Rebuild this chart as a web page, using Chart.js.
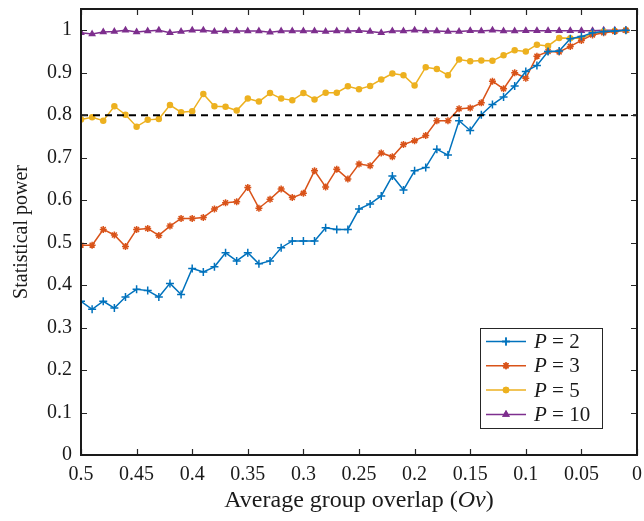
<!DOCTYPE html>
<html>
<head>
<meta charset="utf-8">
<script src="https://cdn.jsdelivr.net/npm/chart.js@4.4.1/dist/chart.umd.min.js"></script>
<style>
  html, body { margin: 0; padding: 0; background: #fff; }
  #wrap { width: 644px; height: 521px; }
</style>
</head>
<body>
<div id="wrap"><canvas id="powerChart" width="644" height="521"></canvas></div>
<script>
// x values (average group overlap), 0.50 down to 0.01
const overlap = [0.50, 0.49, 0.48, 0.47, 0.46, 0.45, 0.44, 0.43, 0.42, 0.41,
  0.40, 0.39, 0.38, 0.37, 0.36, 0.35, 0.34, 0.33, 0.32, 0.31,
  0.30, 0.29, 0.28, 0.27, 0.26, 0.25, 0.24, 0.23, 0.22, 0.21,
  0.20, 0.19, 0.18, 0.17, 0.16, 0.15, 0.14, 0.13, 0.12, 0.11,
  0.10, 0.09, 0.08, 0.07, 0.06, 0.05, 0.04, 0.03, 0.02, 0.01];

const powerP2 = [0.362, 0.343, 0.362, 0.346, 0.372, 0.390, 0.387, 0.372, 0.404, 0.378,
  0.439, 0.431, 0.443, 0.476, 0.457, 0.476, 0.450, 0.457, 0.488, 0.504,
  0.504, 0.504, 0.535, 0.531, 0.531, 0.579, 0.591, 0.610, 0.657, 0.624,
  0.669, 0.677, 0.720, 0.706, 0.787, 0.764, 0.801, 0.825, 0.843, 0.869,
  0.903, 0.917, 0.950, 0.951, 0.980, 0.985, 0.994, 0.997, 0.998, 1.0];

const powerP3 = [0.494, 0.494, 0.531, 0.518, 0.491, 0.531, 0.533, 0.517, 0.539, 0.557,
  0.557, 0.559, 0.579, 0.594, 0.596, 0.630, 0.581, 0.602, 0.626, 0.606,
  0.616, 0.669, 0.631, 0.673, 0.650, 0.685, 0.681, 0.711, 0.702, 0.731,
  0.740, 0.752, 0.787, 0.787, 0.815, 0.817, 0.829, 0.880, 0.862, 0.900,
  0.887, 0.939, 0.950, 0.949, 0.962, 0.976, 0.989, 0.994, 0.997, 1.0];

const powerP5 = [0.790, 0.795, 0.787, 0.821, 0.801, 0.773, 0.789, 0.791, 0.824, 0.807,
  0.809, 0.850, 0.821, 0.820, 0.811, 0.839, 0.832, 0.852, 0.839, 0.835,
  0.852, 0.837, 0.853, 0.853, 0.868, 0.861, 0.869, 0.884, 0.898, 0.894,
  0.870, 0.913, 0.909, 0.894, 0.931, 0.927, 0.929, 0.928, 0.941, 0.953,
  0.950, 0.966, 0.963, 0.982, 0.981, 0.981, 0.992, 0.997, 0.998, 1.0];

const powerP10 = [0.994, 0.991, 0.996, 0.997, 1.0, 0.996, 0.998, 1.0, 0.994, 0.997,
  1.0, 1.0, 0.997, 0.998, 0.998, 0.998, 0.998, 0.995, 0.998, 0.998,
  0.998, 0.998, 0.997, 0.998, 0.998, 0.999, 0.997, 0.994, 0.998, 0.998,
  1.0, 0.998, 0.998, 0.997, 0.997, 0.999, 0.998, 1.0, 0.998, 0.998,
  0.999, 0.999, 0.999, 0.999, 0.999, 0.999, 0.999, 1.0, 1.0, 1.0];

const seriesLabels = ["2", "3", "5", "10"];
const threshold = 0.8;
const thresholdX = [0.5, 0];

const serif = "'Liberation Serif', 'Times New Roman', serif";

function pairs(ys) {
  return overlap.map((x, i) => ({ x: x, y: ys[i] }));
}

// box + inward ticks on all four sides, MATLAB style
const frame = {
  id: "frame",
  afterDraw(chart) {
    const { ctx, chartArea: a, scales } = chart;
    ctx.save();
    ctx.strokeStyle = "#262626";
    ctx.lineWidth = 1.2;
    const len = 6;
    scales.x.ticks.forEach(t => {
      const px = Math.round(scales.x.getPixelForValue(t.value)) + 0.5;
      ctx.beginPath();
      ctx.moveTo(px, a.bottom); ctx.lineTo(px, a.bottom - len);
      ctx.moveTo(px, a.top); ctx.lineTo(px, a.top + len);
      ctx.stroke();
    });
    scales.y.ticks.forEach(t => {
      const py = Math.round(scales.y.getPixelForValue(t.value)) + 0.5;
      ctx.beginPath();
      ctx.moveTo(a.left, py); ctx.lineTo(a.left + len, py);
      ctx.moveTo(a.right, py); ctx.lineTo(a.right - len, py);
      ctx.stroke();
    });
    ctx.lineWidth = 2;
    ctx.strokeStyle = "#1a1a1a";
    ctx.strokeRect(a.left, a.top, a.right - a.left, a.bottom - a.top);

    // x axis title, with italic Ov
    const parts = [["Average group overlap (", ""], ["Ov", "italic "], [")", ""]];
    let total = 0;
    parts.forEach(p => {
      ctx.font = p[1] + "24px " + serif;
      total += ctx.measureText(p[0]).width;
    });
    let tx = (a.left + a.right) / 2 - total / 2;
    ctx.fillStyle = "#1a1a1a";
    ctx.textBaseline = "middle";
    parts.forEach(p => {
      ctx.font = p[1] + "24px " + serif;
      ctx.fillText(p[0], tx, 501);
      tx += ctx.measureText(p[0]).width;
    });
    ctx.restore();
  }
};

// legend box drawn inside the plot, lower right
const insideLegend = {
  id: "insideLegend",
  afterDraw(chart) {
    const { ctx, chartArea: a } = chart;
    const items = chart.data.datasets.filter(d => d.inLegend);
    const boxW = 122, rowH = 24.3;
    const boxH = 100;
    const x0 = a.right - 157, y0 = a.bottom - 127;
    ctx.save();
    ctx.fillStyle = "#fff";
    ctx.fillRect(x0, y0, boxW, boxH);
    ctx.strokeStyle = "#262626";
    ctx.lineWidth = 1;
    ctx.strokeRect(x0 + 0.5, y0 + 0.5, boxW, boxH);
    items.forEach((d, i) => {
      const cy = y0 + 13.5 + i * rowH;
      ctx.strokeStyle = d.borderColor;
      ctx.lineWidth = 1.5;
      ctx.beginPath();
      ctx.moveTo(x0 + 6, cy); ctx.lineTo(x0 + 46, cy);
      ctx.stroke();
      Chart.helpers.drawPoint(ctx, {
        pointStyle: d.pointStyle, radius: d.pointRadius, rotation: 0,
        borderWidth: 1.5
      }, x0 + 26, cy);
      ctx.fillStyle = d.borderColor;
      ctx.strokeStyle = d.borderColor;
      if (d.pointStyle === "circle" || d.pointStyle === "triangle") {
        ctx.fill();
      }
      ctx.stroke();
      ctx.fillStyle = "#1a1a1a";
      ctx.textBaseline = "middle";
      ctx.font = "italic 21px " + serif;
      ctx.fillText("P", x0 + 54, cy + 1);
      const pw = ctx.measureText("P").width;
      ctx.font = "21px " + serif;
      ctx.fillText(" = " + d.pLabel, x0 + 54 + pw, cy + 1);
    });
    ctx.restore();
  }
};

function series(label, ys, color, style, r) {
  return {
    label: "P = " + label,
    pLabel: label,
    inLegend: true,
    data: pairs(ys),
    borderColor: color,
    backgroundColor: color,
    borderWidth: 1.5,
    pointStyle: style,
    pointRadius: r,
    pointBorderWidth: 1.5,
    pointBorderColor: color,
    pointBackgroundColor: color,
    tension: 0
  };
}

new Chart(document.getElementById("powerChart"), {
  type: "line",
  data: {
    datasets: [
      {
        label: "threshold",
        data: thresholdX.map(x => ({ x: x, y: threshold })),
        borderColor: "#000",
        borderWidth: 2,
        borderDash: [7, 5],
        pointRadius: 0
      },
      series(seriesLabels[0], powerP2, "#0072BD", "cross", 4),
      series(seriesLabels[1], powerP3, "#D95319", "star", 3.5),
      series(seriesLabels[2], powerP5, "#EDB120", "circle", 2.5),
      series(seriesLabels[3], powerP10, "#7E2F8E", "triangle", 3)
    ]
  },
  options: {
    responsive: false,
    animation: false,
    layout: { padding: { top: 9, right: 7, left: 0, bottom: 0 } },
    plugins: {
      legend: { display: false },
      tooltip: { enabled: false }
    },
    scales: {
      x: {
        type: "linear",
        reverse: true,
        min: 0,
        max: 0.5,
        grid: { display: false, drawTicks: false },
        border: { display: false },
        ticks: {
          stepSize: 0.05,
          includeBounds: false,
          padding: 8,
          maxRotation: 0,
          color: "#1a1a1a",
          font: { family: serif, size: 20 },
          callback: v => String(+v.toFixed(2))
        },
        title: { display: false },
        afterFit(scale) {
          scale.height = 66;
          scale.paddingLeft = 0;
          scale.paddingRight = 0;
        }
      },
      y: {
        min: 0,
        max: 1.05,
        grid: { display: false, drawTicks: false },
        border: { display: false },
        ticks: {
          stepSize: 0.1,
          includeBounds: false,
          padding: 9,
          color: "#1a1a1a",
          font: { family: serif, size: 20 },
          callback: v => String(+v.toFixed(1))
        },
        title: {
          display: true,
          text: "Statistical power",
          color: "#1a1a1a",
          font: { family: serif, size: 20 },
          padding: { top: 10, bottom: 4 }
        },
        afterFit(scale) {
          scale.width = 81;
          scale.paddingTop = 0;
          scale.paddingBottom = 0;
        }
      }
    }
  },
  plugins: [frame, insideLegend]
});
</script>
</body>
</html>
